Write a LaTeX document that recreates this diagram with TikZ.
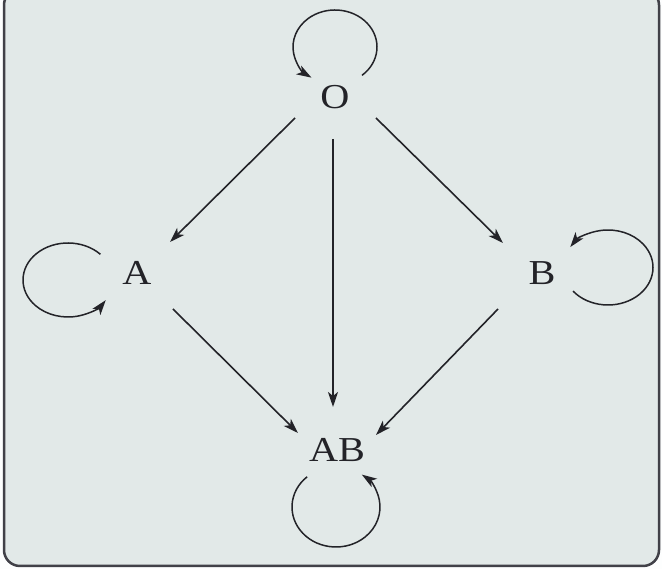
\documentclass[tikz,border=0pt]{standalone}
\usepackage{fontspec}
\setmainfont{Liberation Serif}
\usetikzlibrary{arrows.meta,calc}
\definecolor{bgpaper}{RGB}{226,233,232}
\definecolor{inkgray}{RGB}{35,35,40}
\definecolor{framegray}{RGB}{65,65,72}
\tikzset{
  lbl/.style={inner sep=0pt, text=inkgray, font=\fontsize{35}{42}\selectfont},
  arr/.style={draw=inkgray, line width=1.6pt, -{Stealth[length=15pt,width=10pt,inset=4pt]}},
  looparr/.style={draw=inkgray, line width=1.5pt, -{Stealth[length=15pt,width=10pt,inset=4pt]}}
}
\newcommand{\widetext}[1]{\scalebox{1.15}[1]{#1}}
\begin{document}
\begin{tikzpicture}[x=1pt,y=1pt]
\useasboundingbox (0,0) rectangle (662,569);
\fill[white!94!bgpaper] (0,0) rectangle (662,569);
\draw[framegray, line width=2.5pt, fill=bgpaper, rounded corners=16pt] (4,3) rectangle (659,580);
% nodes
\node[lbl] (O)  at (335,472) {\widetext{O}};
\node[lbl] (A)  at (137,296) {\widetext{A}};
\node[lbl] (B)  at (542,296) {\widetext{B}};
\node[lbl] (AB) at (337,119) {\widetext{AB}};
% straight arrows
\draw[arr] ([shift={(-40,-21)}]O.center) -- ([shift={(33,31)}]A.center);
\draw[arr] ([shift={(41,-21)}]O.center) -- ([shift={(-39,30)}]B.center);
\draw[arr] ([shift={(-2,-42)}]O.center) -- ([shift={(-4,43)}]AB.center);
\draw[arr] ([shift={(36,-36)}]A.center) -- ([shift={(-39,17)}]AB.center);
\draw[arr] ([shift={(-44,-36)}]B.center) -- ([shift={(39,15)}]AB.center);
% self loops
\draw[looparr] ($(O)+(0,50)+(-50:42pt and 37pt)$) arc[start angle=-50,end angle=236,x radius=42pt,y radius=37pt];
\draw[looparr] ($(A)+(-69,-7)+(44:45pt and 37pt)$) arc[start angle=44,end angle=327,x radius=45pt,y radius=37pt];
\draw[looparr] ($(B)+(66,5.5)+(219:45pt and 37.5pt)$) arc[start angle=219,end angle=507,x radius=45pt,y radius=37.5pt];
\draw[looparr] ($(AB)+(-1,-57)+(131:44pt and 40pt)$) arc[start angle=131,end angle=414,x radius=44pt,y radius=40pt];
\end{tikzpicture}
\end{document}
